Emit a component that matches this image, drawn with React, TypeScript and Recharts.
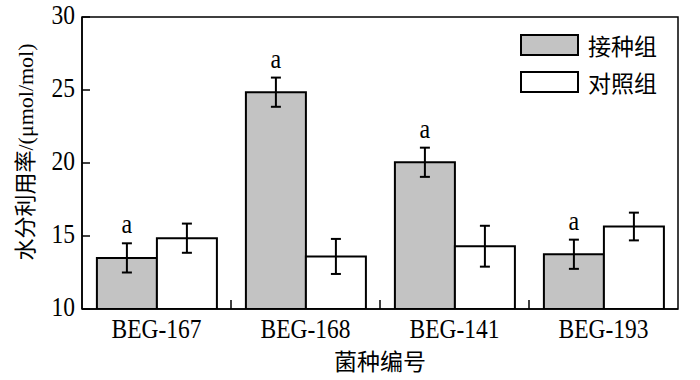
import React from 'react';
import { BarChart, Bar, XAxis, YAxis, ErrorBar, Legend, LabelList, ReferenceArea } from 'recharts';

const categories = ['BEG-167', 'BEG-168', 'BEG-141', 'BEG-193'];
const inoculated = [13.5, 24.85, 20.05, 13.75];
const inoculatedErr = [1.0, 1.0, 1.0, 1.0];
const control = [14.85, 13.6, 14.3, 15.65];
const controlErr = [1.0, 1.2, 1.4, 0.95];
const sigLetters = ['a', 'a', 'a', 'a'];
const yTicks = [10, 15, 20, 25, 30];
const seriesNames = ['接种组', '对照组'];
const seriesFills = ['#c3c3c3', '#ffffff'];

const data = categories.map((c, i) => ({
  name: c,
  inoc: inoculated[i],
  inocErr: inoculatedErr[i],
  ctrl: control[i],
  ctrlErr: controlErr[i],
  sig: sigLetters[i],
}));

const SERIF = "'Liberation Serif', 'Times New Roman', serif";
const CJK = "'Noto Sans CJK SC', 'Noto Sans', sans-serif";
const MIXED = "'Liberation Serif', 'Noto Sans CJK SC', serif";
const STRETCH = 1.12;
const X_TICK_MARGIN = 10;
const BOUNDARY_TICK = 9;

const SigLabel = (props: any) => {
  const vb = props.viewBox || props;
  const x = Number(vb.x ?? props.x);
  const y = Number(vb.y ?? props.y);
  const width = Number(vb.width ?? props.width);
  const height = Number(vb.height ?? props.height);
  const index = props.index;
  const value = props.value;
  const v = inoculated[index];
  const e = inoculatedErr[index];
  const pxPerUnit = height / (v - 10);
  const top = y - e * pxPerUnit;
  return (
    <text
      transform={`translate(${x + width / 2},${top - 10}) scale(1,${STRETCH})`}
      textAnchor="middle"
      fontFamily={SERIF}
      fontSize={24}
      fill="#000"
    >
      {value}
    </text>
  );
};

const XTick = (props: any) => {
  const { x, y, payload, index } = props;
  const half = Number(payload?.offset) || 0;
  const axisY = y - X_TICK_MARGIN;
  const showBoundary = index < categories.length - 1 && half > 0;
  return (
    <g>
      {showBoundary && (
        <line
          x1={x + half}
          x2={x + half}
          y1={axisY}
          y2={axisY - BOUNDARY_TICK}
          stroke="#000"
          strokeWidth={1.5}
        />
      )}
      <text
        transform={`translate(${x},${y}) scale(1,${STRETCH})`}
        dy="0.71em"
        textAnchor="middle"
        fontFamily={SERIF}
        fontSize={23.5}
        fill="#000"
      >
        {payload.value}
      </text>
    </g>
  );
};

const YTick = (props: any) => {
  const { x, y, payload } = props;
  return (
    <text
      transform={`translate(${x},${y - 2}) scale(1,${STRETCH})`}
      dy="0.34em"
      textAnchor="end"
      fontFamily={SERIF}
      fontSize={23.5}
      fill="#000"
    >
      {payload.value}
    </text>
  );
};

const renderLegend = () => (
  <div style={{ display: 'flex', flexDirection: 'column', gap: 15 }}>
    {seriesNames.map((n, i) => (
      <div key={n} style={{ display: 'flex', alignItems: 'center', height: 22 }}>
        <div
          style={{
            width: 59,
            height: 22,
            boxSizing: 'border-box',
            border: '2px solid #000',
            background: seriesFills[i],
          }}
        />
        <span style={{ marginLeft: 9, fontFamily: CJK, fontSize: 23, lineHeight: '22px', color: '#000' }}>{n}</span>
      </div>
    ))}
  </div>
);

const YLabel = (p: any) => {
  const vb = p.viewBox;
  return (
    <text
      transform={`translate(${vb.x + 25},${vb.y + vb.height / 2 - 11}) rotate(-90)`}
      textAnchor="middle"
      dominantBaseline="central"
      fontFamily={MIXED}
      fontSize={22}
      fill="#000"
    >
      水分利用率/(μmol/mol)
    </text>
  );
};

export default function App() {
  return (
    <div style={{ position: 'absolute', left: 0, top: 0, width: 700, height: 380, background: '#fff' }}>
      <BarChart
        width={700}
        height={380}
        data={data}
        margin={{ top: 17, right: 22, bottom: 0, left: 0 }}
        barCategoryGap="10%"
        barGap={0}
      >
        <XAxis
          dataKey="name"
          height={71}
          tickLine={false}
          tickSize={0}
          tickMargin={X_TICK_MARGIN}
          axisLine={{ stroke: '#000', strokeWidth: 1.5 }}
          tick={<XTick />}
          label={{ value: '菌种编号', position: 'insideBottom', offset: 10, style: { fontFamily: CJK, fontSize: 23, fill: '#000' } }}
        />
        <YAxis
          width={82}
          domain={[10, 30]}
          ticks={yTicks}
          allowDataOverflow
          tickSize={-8}
          tickMargin={15}
          axisLine={{ stroke: '#000', strokeWidth: 1.5 }}
          tickLine={{ stroke: '#000', strokeWidth: 1.5 }}
          tick={<YTick />}
          label={{ content: YLabel }}
        />
        <Bar dataKey="inoc" fill={seriesFills[0]} stroke="#000" strokeWidth={2} isAnimationActive={false}>
          <ErrorBar dataKey="inocErr" width={5} stroke="#000" strokeWidth={2} />
          <LabelList dataKey="sig" content={SigLabel} />
        </Bar>
        <Bar dataKey="ctrl" fill={seriesFills[1]} stroke="#000" strokeWidth={2} isAnimationActive={false}>
          <ErrorBar dataKey="ctrlErr" width={5} stroke="#000" strokeWidth={2} />
        </Bar>
        <ReferenceArea y1={10} y2={30} fill="none" stroke="#000" strokeWidth={1.5} ifOverflow="visible" />
        <Legend
          layout="vertical"
          align="center"
          verticalAlign="middle"
          content={renderLegend}
          wrapperStyle={{ top: 34, left: 520, width: 170 }}
        />
      </BarChart>
    </div>
  );
}
